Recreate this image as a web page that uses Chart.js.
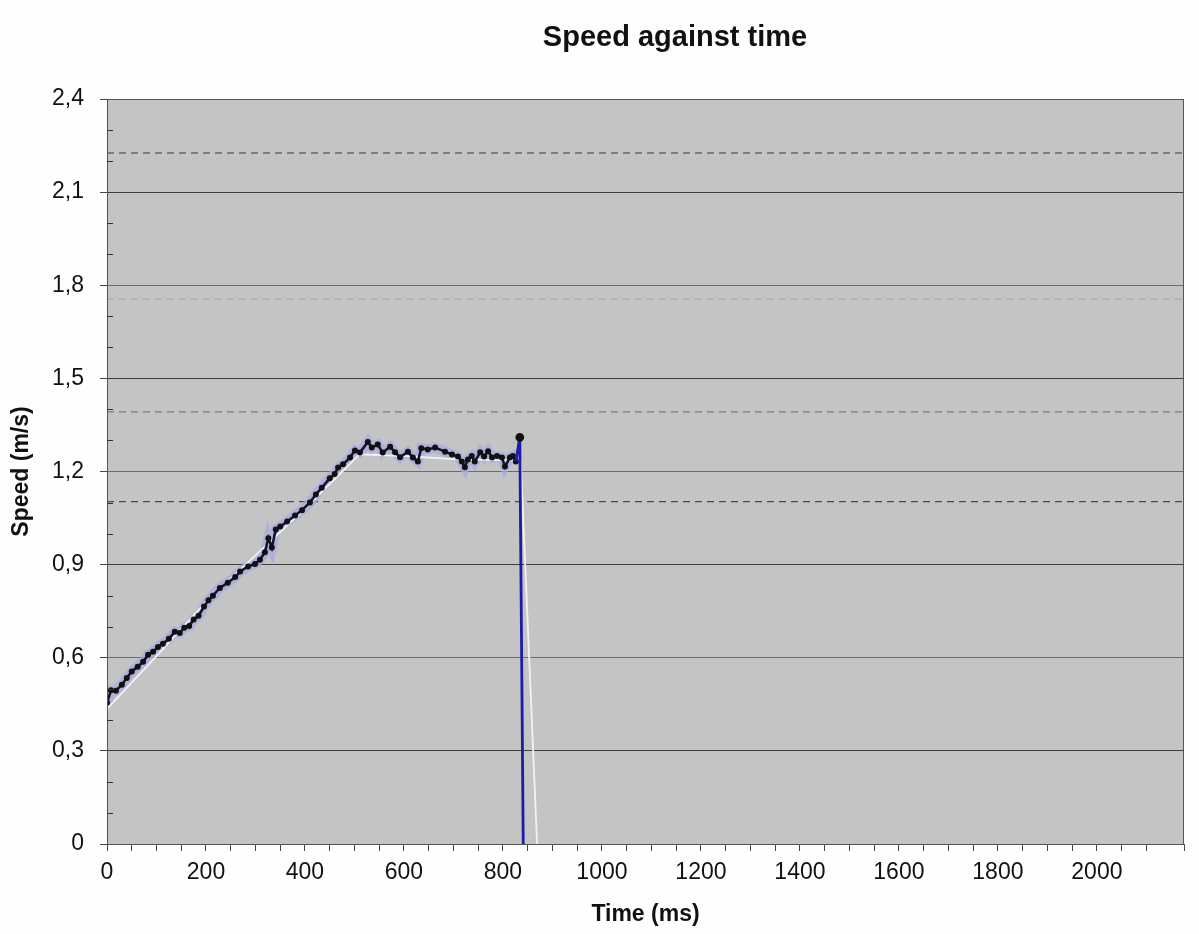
<!DOCTYPE html>
<html><head><meta charset="utf-8">
<script src="https://cdn.jsdelivr.net/npm/chart.js@4.4.1/dist/chart.umd.min.js"></script>
<style>html,body{margin:0;padding:0;background:#fdfefd;} #wrap{width:1199px;height:934px;}</style>
</head><body><div id="wrap"><canvas id="c" width="1199" height="934"></canvas></div>
<script>
const chartTitle = 'Speed against time';
const xAxisTitle = 'Time (ms)';
const yAxisTitle = 'Speed (m/s)';

// measured speed (black line with markers)
const timeMs = [0,8,18,30,40,50,62,73,83,93,103,113,125,137,147,156,166,175,185,196,205,214,228,244,259,269,285,299,309,319,326,333,341,350,364,380,394,410,422,434,450,460,467,477,491,501,511,527,535,547,557,572,582,592,608,618,628,635,648,663,683,697,709,717,723,729,737,743,754,762,770,778,788,798,804,814,820,826];
const speedMs = [0.455,0.495,0.494,0.513,0.535,0.556,0.571,0.587,0.610,0.619,0.635,0.645,0.661,0.684,0.680,0.697,0.702,0.723,0.735,0.765,0.785,0.800,0.825,0.842,0.860,0.878,0.894,0.902,0.916,0.940,0.985,0.955,1.013,1.023,1.039,1.058,1.075,1.100,1.126,1.148,1.178,1.192,1.213,1.223,1.245,1.268,1.261,1.295,1.277,1.287,1.261,1.280,1.262,1.246,1.264,1.245,1.232,1.275,1.271,1.277,1.264,1.255,1.248,1.232,1.214,1.239,1.250,1.232,1.262,1.248,1.265,1.245,1.250,1.245,1.216,1.245,1.250,1.232];

// final drop (blue)
const dropTimeMs = [826, 834, 841];
const dropSpeed = [1.232, 1.310, 0];

// light trend line (white)
const trendTimeMs = [0,100,200,300,400,510,600,700,836,869];
const trendSpeed = [0.435,0.605,0.78,0.93,1.08,1.255,1.25,1.24,1.235,0];

// dashed horizontal reference levels
const referenceLevels = [2.226, 1.755, 1.392, 1.103];
const referenceColors = ['#666666', '#a9a9a9', '#7a7a7a', '#484848'];

const xMin = 0, xMax = 2176, xStep = 50, xLabelStep = 200;
const yMin = 0, yMax = 2.4, yStep = 0.1, yLabelStep = 0.3;

const pts = (xs, ys) => xs.map((x, i) => ({x: x, y: ys[i]}));
const isMult = (v, s) => Math.abs(v / s - Math.round(v / s)) < 1e-6;
const FONT = '"Liberation Sans", Arial, sans-serif';

const datasets = [];
referenceLevels.forEach((lv, i) => {
  datasets.push({data: pts([xMin, xMax], [lv, lv]), borderColor: referenceColors[i], borderWidth: 1.3,
    borderDash: [7, 5], pointRadius: 0, order: 6});
});
datasets.push({data: pts(timeMs, speedMs), borderColor: 'rgba(170,170,230,0.75)', borderWidth: 10, pointRadius: 0, order: 4});
datasets.push({data: pts(trendTimeMs, trendSpeed), borderColor: '#f2f2f2', borderWidth: 1.8, pointRadius: 0, order: 3});
datasets.push({data: pts(timeMs, speedMs), borderColor: '#15152a', borderWidth: 2.6, pointRadius: 3,
  pointBackgroundColor: '#111', pointBorderColor: '#111', pointBorderWidth: 0, order: 1});
datasets.push({data: pts(dropTimeMs, dropSpeed), borderColor: '#1c1ca8', borderWidth: 2.8,
  pointRadius: [0, 3, 0], pointBackgroundColor: '#111', pointBorderColor: '#111', order: 0});

const areaPlugin = {
  id: 'area',
  beforeDraw(chart) {
    const {ctx, chartArea: a} = chart;
    ctx.save();
    ctx.fillStyle = '#c4c4c4';
    ctx.fillRect(a.left, a.top, a.right - a.left, a.bottom - a.top);
    ctx.restore();
  },
  afterDraw(chart) {
    const {ctx, chartArea: a} = chart;
    const y = chart.scales.y;
    ctx.save();
    ctx.strokeStyle = '#555';
    ctx.lineWidth = 1;
    ctx.strokeRect(a.left + 0.5, a.top + 0.5, a.right - a.left - 1, a.bottom - a.top);
    ctx.strokeStyle = '#333';
    y.ticks.forEach(t => {
      if (!isMult(t.value, yLabelStep)) {
        const py = Math.round(y.getPixelForValue(t.value)) + 0.5;
        ctx.beginPath(); ctx.moveTo(a.left, py); ctx.lineTo(a.left + 6, py); ctx.stroke();
      }
    });
    ctx.fillStyle = '#111';
    ctx.font = 'bold 29px ' + FONT;
    ctx.textAlign = 'center';
    ctx.textBaseline = 'middle';
    ctx.fillText(chartTitle, 675, 38);
    ctx.restore();
  }
};

new Chart(document.getElementById('c'), {
  type: 'line',
  data: {datasets: datasets},
  options: {
    responsive: false, animation: false, devicePixelRatio: 1,
    layout: {padding: {top: 99, right: 15, left: 0, bottom: 0}},
    plugins: {legend: {display: false}, tooltip: {enabled: false}, title: {display: false}},
    elements: {line: {tension: 0}},
    scales: {
      x: {
        type: 'linear', min: xMin, max: xMax,
        afterFit: s => { s.height = 90; },
        ticks: {stepSize: xStep, autoSkip: false, maxRotation: 0, padding: 8, color: '#111',
          font: {family: FONT, size: 23},
          callback: v => (isMult(v, xLabelStep) ? String(v) : '')},
        grid: {drawOnChartArea: false, tickLength: 7, tickColor: '#444'},
        border: {color: '#666'},
        title: {display: true, text: xAxisTitle, color: '#111', padding: {top: 0, bottom: 6},
          font: {family: FONT, size: 23, weight: 'bold'}}
      },
      y: {
        type: 'linear', min: yMin, max: yMax,
        afterFit: s => { s.width = 107; },
        ticks: {stepSize: yStep, autoSkip: false, padding: 16, color: '#111',
          font: {family: FONT, size: 23},
          callback: v => (isMult(v, yLabelStep) ? (Math.abs(v) < 1e-9 ? '0' : v.toFixed(1).replace('.', ',')) : '')},
        grid: {
          tickLength: 7,
          color: ctx => {
            const t = ctx.tick; if (!t) return 'rgba(0,0,0,0)';
            const v = t.value;
            if (!isMult(v, yLabelStep) || v < 1e-6 || v > yMax - 1e-6) return 'rgba(0,0,0,0)';
            return (isMult(v - 1.5, 0.6)) ? '#3e3e3e' : '#6c6c6c';
          },
          tickColor: ctx => {
            const t = ctx.tick; if (!t) return 'rgba(0,0,0,0)';
            return isMult(t.value, yLabelStep) ? '#444' : 'rgba(0,0,0,0)';
          }
        },
        border: {color: '#555'},
        title: {display: true, text: yAxisTitle, color: '#111', padding: {top: 8, bottom: 0},
          font: {family: FONT, size: 23, weight: 'bold'}}
      }
    }
  },
  plugins: [areaPlugin]
});
</script>
</body></html>
